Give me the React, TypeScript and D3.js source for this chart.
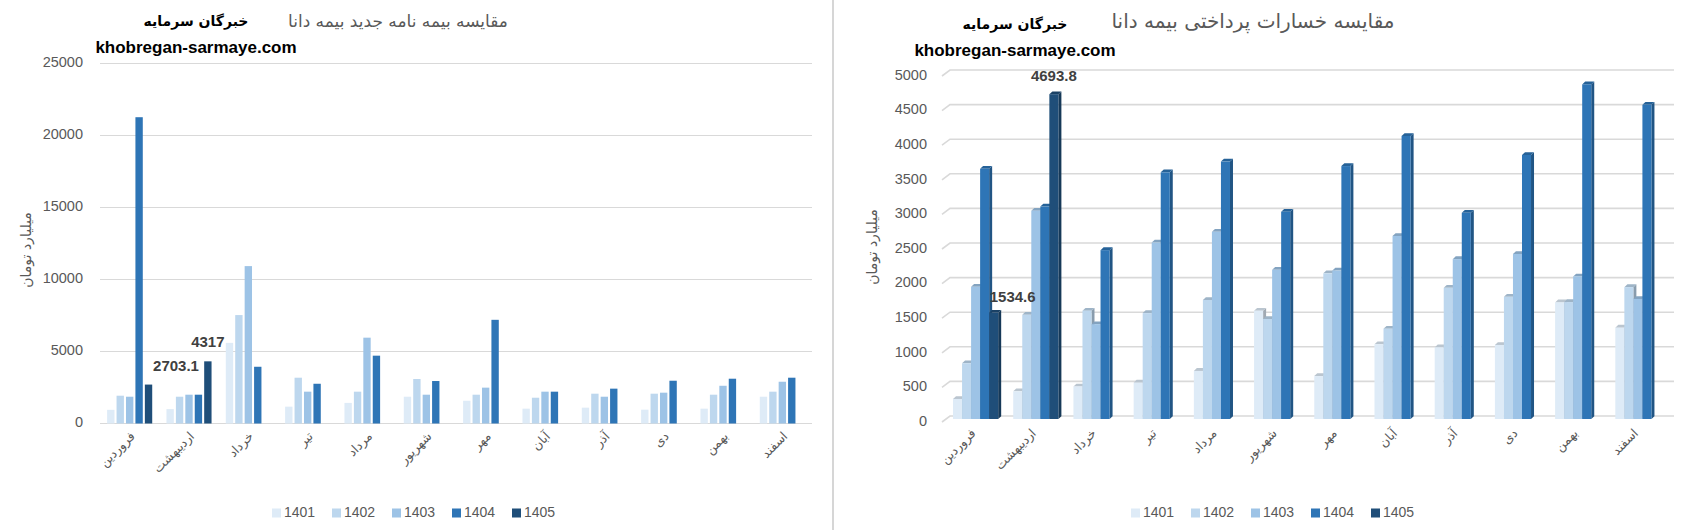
import { useEffect, useRef } from 'react';
import * as d3 from 'd3';

// months of the Persian year, as on the category axis
const months = ['فروردین', 'اردیبهشت', 'خرداد', 'تیر', 'مرداد', 'شهریور', 'مهر', 'آبان', 'آذر', 'دی', 'بهمن', 'اسفند'];
const years = ['1401', '1402', '1403', '1404', '1405'];
const colors = ['#deebf7', '#bdd7ee', '#9dc3e6', '#2e75b6', '#1f4e79'];

// left chart: new policies (billion toman)
const newPolicies1401 = [950, 1000, 5600, 1170, 1430, 1860, 1580, 1030, 1100, 960, 1030, 1860];
const newPolicies1402 = [1930, 1860, 7530, 3180, 2210, 3090, 2000, 1790, 2070, 2070, 2000, 2210];
const newPolicies1403 = [1860, 2000, 10930, 2210, 5960, 2000, 2490, 2210, 1860, 2140, 2620, 2900];
const newPolicies1404 = [21270, 2000, 3940, 2760, 4710, 2950, 7200, 2210, 2420, 2970, 3110, 3180];
const newPolicies1405 = [2703.1, 4317, null, null, null, null, null, null, null, null, null, null];
const newTicks = [0, 5000, 10000, 15000, 20000, 25000];

// right chart: paid claims (billion toman)
const claims1401 = [290, 400, 470, 525, 695, 1565, 620, 1080, 1035, 1070, 1685, 1320];
const claims1402 = [805, 1505, 1565, 1530, 1720, 1445, 2105, 1305, 1895, 1765, 1690, 1905];
const claims1403 = [1910, 3010, 1370, 2550, 2705, 2155, 2145, 2645, 2310, 2385, 2060, 1735];
const claims1404 = [3615, 3070, 2440, 3565, 3720, 2995, 3655, 4090, 2980, 3815, 4835, 4540];
const claims1405 = [1534.6, 4693.8, null, null, null, null, null, null, null, null, null, null];
const claimTicks = [0, 500, 1000, 1500, 2000, 2500, 3000, 3500, 4000, 4500, 5000];

const newSeries = [newPolicies1401, newPolicies1402, newPolicies1403, newPolicies1404, newPolicies1405];
const claimSeries = [claims1401, claims1402, claims1403, claims1404, claims1405];

const leftTitle = 'مقایسه بیمه نامه جدید بیمه دانا';
const rightTitle = 'مقایسه خسارات پرداختی بیمه دانا';
const brand = 'خبرگان سرمایه';
const site = 'khobregan-sarmaye.com';
const yTitle = 'میلیارد تومان';

const FA = '"DejaVu Sans", sans-serif';
const NUM = '"Liberation Sans", Arial, sans-serif';
const GRID = '#d9d9d9';
const TEXT = '#595959';

export default function App() {
  const svgRef = useRef<SVGSVGElement>(null);

  useEffect(() => {
    if (!svgRef.current) return;
    const svg = d3.select(svgRef.current);
    svg.selectAll('*').remove();

    svg.append('rect').attr('width', 1697).attr('height', 530).attr('fill', '#fff');

    // divider between the two charts
    svg.append('line')
      .attr('x1', 833).attr('x2', 833).attr('y1', 0).attr('y2', 530)
      .attr('stroke', '#c8c8c8').attr('stroke-width', 1.5);

    const headings = (cx: number, title: string, titleX: number, titleSize: number, brandY: number) => {
      svg.append('text')
        .attr('x', titleX).attr('y', 22)
        .attr('text-anchor', 'middle').attr('dominant-baseline', 'middle')
        .attr('font-family', FA).attr('font-size', titleSize).attr('fill', TEXT)
        .attr('direction', 'rtl')
        .text(title);
      svg.append('text')
        .attr('x', cx).attr('y', brandY)
        .attr('text-anchor', 'middle').attr('dominant-baseline', 'middle')
        .attr('font-family', FA).attr('font-size', 14).attr('font-weight', 'bold').attr('fill', '#000')
        .attr('direction', 'rtl')
        .text(brand);
      svg.append('text')
        .attr('x', cx).attr('y', brandY + 27)
        .attr('text-anchor', 'middle').attr('dominant-baseline', 'middle')
        .attr('font-family', NUM).attr('font-size', 17).attr('font-weight', 'bold').attr('fill', '#000')
        .text(site);
    };

    const legend = (x0: number, y: number) => {
      years.forEach((yr, i) => {
        const x = x0 + i * 60;
        svg.append('rect')
          .attr('x', x).attr('y', y - 4.5).attr('width', 9).attr('height', 9)
          .attr('fill', colors[i]);
        svg.append('text')
          .attr('x', x + 12).attr('y', y)
          .attr('dominant-baseline', 'middle')
          .attr('font-family', NUM).attr('font-size', 14).attr('fill', TEXT)
          .text(yr);
      });
    };

    const yAxisTitle = (x: number, y: number) => {
      svg.append('text')
        .attr('transform', `translate(${x},${y}) rotate(-90)`)
        .attr('text-anchor', 'middle').attr('dominant-baseline', 'middle')
        .attr('font-family', FA).attr('font-size', 14).attr('fill', TEXT)
        .attr('direction', 'rtl')
        .text(yTitle);
    };

    // ---------- left chart ----------
    {
      const g = svg.append('g');
      const x0 = d3.scaleBand<string>().domain(months).range([100, 812]).paddingInner(0.24).paddingOuter(0.12);
      const x1 = d3.scaleBand<string>().domain(years).range([0, x0.bandwidth()]).paddingInner(0.22);
      const y = d3.scaleLinear().domain([0, 25000]).range([423.5, 63.5]);

      newTicks.forEach(t => {
        g.append('line')
          .attr('x1', 100).attr('x2', 812).attr('y1', y(t)).attr('y2', y(t))
          .attr('stroke', GRID).attr('stroke-width', 1);
        g.append('text')
          .attr('x', 83).attr('y', y(t))
          .attr('text-anchor', 'end').attr('dominant-baseline', 'middle')
          .attr('font-family', NUM).attr('font-size', 14.5).attr('fill', TEXT)
          .text(t);
      });

      newSeries.forEach((vals, si) => {
        vals.forEach((v, mi) => {
          if (v == null) return;
          g.append('rect')
            .attr('x', x0(months[mi])! + x1(years[si])!)
            .attr('y', y(v))
            .attr('width', x1.bandwidth())
            .attr('height', y(0) - y(v))
            .attr('fill', colors[si]);
        });
      });

      // data labels for 1405
      const offsets = [27.5, 0];
      newPolicies1405.forEach((v, mi) => {
        if (v == null) return;
        const cx = x0(months[mi])! + x1('1405')! + x1.bandwidth() / 2 + offsets[mi];
        g.append('text')
          .attr('x', cx).attr('y', y(v) - 18)
          .attr('text-anchor', 'middle').attr('dominant-baseline', 'middle')
          .attr('font-family', NUM).attr('font-size', 15).attr('font-weight', 'bold').attr('fill', '#404040')
          .text(v);
      });

      months.forEach(m => {
        const cx = x0(m)! + x0.bandwidth() / 2 + 6;
        g.append('text')
          .attr('transform', `translate(${cx},437) rotate(-45)`)
          .attr('text-anchor', 'start')
          .attr('direction', 'rtl')
          .attr('font-family', FA).attr('font-size', 12.5).attr('fill', TEXT)
          .text(m);
      });

      yAxisTitle(27, 250);
      headings(196, leftTitle, 398, 17, 22);
      legend(272, 513);
    }

    // ---------- right chart (3D columns) ----------
    {
      const g = svg.append('g');
      const x0 = d3.scaleBand<string>().domain(months).range([945.5, 1668]).paddingInner(0.25).paddingOuter(0.125);
      const x1 = d3.scaleBand<string>().domain(years).range([0, x0.bandwidth()]);
      const y = d3.scaleLinear().domain([0, 5000]).range([419, 73]);
      const dx = 3;
      const dy = 2.8;

      claimTicks.forEach(t => {
        g.append('path')
          .attr('d', `M942,${y(t) + 3}L950,${y(t) - 3}L1674,${y(t) - 3}`)
          .attr('fill', 'none').attr('stroke', GRID).attr('stroke-width', 1.6);
        g.append('text')
          .attr('x', 927).attr('y', y(t) + 3)
          .attr('text-anchor', 'end').attr('dominant-baseline', 'middle')
          .attr('font-family', NUM).attr('font-size', 14.5).attr('fill', TEXT)
          .text(t);
      });

      claimSeries.forEach((vals, si) => {
        const c = d3.color(colors[si])!;
        const top = c.darker(0.5).formatHex();
        const side = c.darker(0.9).formatHex();
        vals.forEach((v, mi) => {
          if (v == null) return;
          const x = x0(months[mi])! + x1(years[si])!;
          const w = x1.bandwidth();
          const yt = y(v);
          const yb = y(0);
          g.append('path')
            .attr('d', `M${x + w},${yt}L${x + w + dx},${yt - dy}L${x + w + dx},${yb - dy}L${x + w},${yb}Z`)
            .attr('fill', side);
          g.append('path')
            .attr('d', `M${x},${yt}L${x + dx},${yt - dy}L${x + w + dx},${yt - dy}L${x + w},${yt}Z`)
            .attr('fill', top);
          g.append('rect')
            .attr('x', x).attr('y', yt).attr('width', w).attr('height', yb - yt)
            .attr('fill', colors[si]);
        });
      });

      const offsets = [[19, -15], [0, -17]];
      claims1405.forEach((v, mi) => {
        if (v == null) return;
        const cx = x0(months[mi])! + x1('1405')! + x1.bandwidth() / 2 + offsets[mi][0];
        g.append('text')
          .attr('x', cx).attr('y', y(v) + offsets[mi][1])
          .attr('text-anchor', 'middle').attr('dominant-baseline', 'middle')
          .attr('font-family', NUM).attr('font-size', 15).attr('font-weight', 'bold').attr('fill', '#404040')
          .text(v);
      });

      months.forEach(m => {
        const cx = x0(m)! + x0.bandwidth() / 2 + 1;
        g.append('text')
          .attr('transform', `translate(${cx},434) rotate(-45)`)
          .attr('text-anchor', 'start')
          .attr('direction', 'rtl')
          .attr('font-family', FA).attr('font-size', 12.5).attr('fill', TEXT)
          .text(m);
      });

      yAxisTitle(873, 247);
      headings(1015, rightTitle, 1253, 20, 25);
      legend(1131, 513);
    }
  }, []);

  return (
    <svg
      ref={svgRef}
      width={1697}
      height={530}
      style={{ position: 'absolute', left: 0, top: 0 }}
    />
  );
}
